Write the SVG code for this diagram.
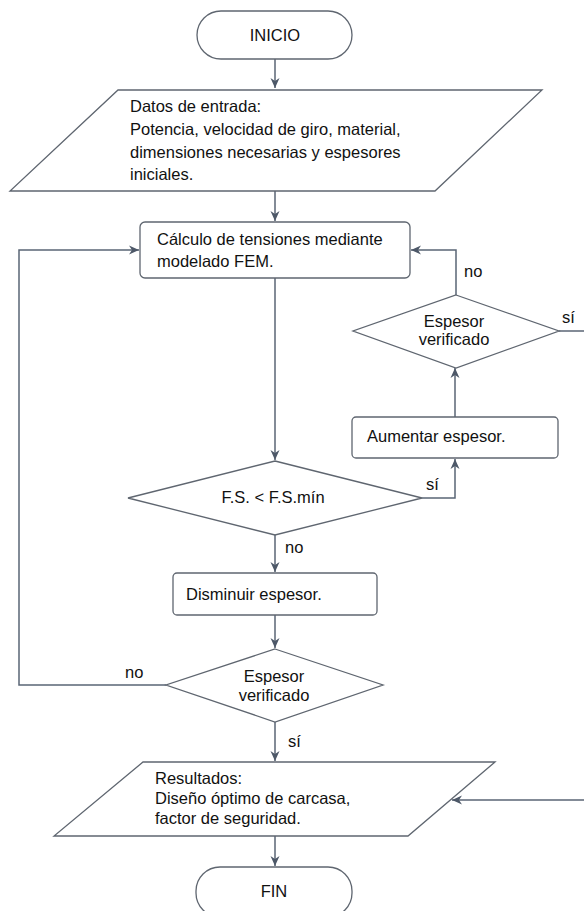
<svg xmlns="http://www.w3.org/2000/svg" width="584" height="911" viewBox="0 0 584 911">
<defs>
<style>
.shape{fill:#ffffff;stroke:#5f6670;stroke-width:1.3}
.line{fill:none;stroke:#5a6575;stroke-width:1.5}
.t{font-family:"Liberation Sans",Arial,sans-serif;font-size:16.5px;fill:#111111}
.c{text-anchor:middle}
</style>
<marker id="arr" markerWidth="12" markerHeight="10" refX="10" refY="5" orient="auto" markerUnits="userSpaceOnUse">
<path d="M0,0.5 L10,5 L0,9.5 L3,5 Z" fill="#4d5868"/>
</marker>
</defs>
<rect width="584" height="911" fill="#ffffff"/>
<g id="connectors">
<path class="line" d="M275,59 L275,88" marker-end="url(#arr)"/>
<path class="line" d="M275,191 L275,221" marker-end="url(#arr)"/>
<path class="line" d="M275,278 L275,460" marker-end="url(#arr)"/>
<path class="line" d="M422,498 L455,498 L455,459" marker-end="url(#arr)"/>
<path class="line" d="M455,417 L455,368" marker-end="url(#arr)"/>
<path class="line" d="M456,295 L456,250 L411,250" marker-end="url(#arr)"/>
<path class="line" d="M559,331 L586,331"/>
<path class="line" d="M275,535 L275,572" marker-end="url(#arr)"/>
<path class="line" d="M275,615 L275,648" marker-end="url(#arr)"/>
<path class="line" d="M166,685 L19,685 L19,250 L139,250" marker-end="url(#arr)"/>
<path class="line" d="M275,722 L275,761" marker-end="url(#arr)"/>
<path class="line" d="M586,800 L452,800" marker-end="url(#arr)"/>
<path class="line" d="M275,836 L275,866" marker-end="url(#arr)"/>
<text class="t" x="464" y="277">no</text>
<text class="t" x="562" y="323">sí</text>
<text class="t" x="426" y="490">sí</text>
<text class="t" x="285" y="553">no</text>
<text class="t" x="125" y="678">no</text>
<text class="t" x="288" y="747">sí</text>
</g>
<g id="inicio">
<rect class="shape" x="197" y="11" width="155" height="48" rx="24"/>
<text class="t c" x="275" y="41">INICIO</text>
</g>
<g id="datos">
<polygon class="shape" points="118,90 542,90 435,191 10,191"/>
<text class="t" x="130" y="112">Datos de entrada:</text>
<text class="t" x="130" y="135">Potencia, velocidad de giro, material,</text>
<text class="t" x="130" y="158">dimensiones necesarias y espesores</text>
<text class="t" x="130" y="180">iniciales.</text>
</g>
<g id="calculo">
<rect class="shape" x="140" y="222" width="270" height="56" rx="5"/>
<text class="t" x="157" y="245">Cálculo de tensiones mediante</text>
<text class="t" x="157" y="267">modelado FEM.</text>
</g>
<g id="verif1">
<polygon class="shape" points="456,295 559,331 456,368 353,331"/>
<text class="t c" x="454" y="327">Espesor</text>
<text class="t c" x="454" y="345">verificado</text>
</g>
<g id="aumentar">
<rect class="shape" x="352" y="417" width="206" height="41" rx="4"/>
<text class="t" x="367" y="442">Aumentar espesor.</text>
</g>
<g id="fs">
<polygon class="shape" points="275,461 422,498 275,535 128,498"/>
<text class="t c" x="273" y="503">F.S. &lt; F.S.mín</text>
</g>
<g id="disminuir">
<rect class="shape" x="173" y="573" width="204" height="42" rx="4"/>
<text class="t" x="186" y="600">Disminuir espesor.</text>
</g>
<g id="verif2">
<polygon class="shape" points="275,649 383,685 275,722 166,685"/>
<text class="t c" x="274" y="682">Espesor</text>
<text class="t c" x="274" y="701">verificado</text>
</g>
<g id="resultados">
<polygon class="shape" points="143,762 495,762 408,836 54,836"/>
<text class="t" x="155" y="784">Resultados:</text>
<text class="t" x="155" y="804">Diseño óptimo de carcasa,</text>
<text class="t" x="155" y="824">factor de seguridad.</text>
</g>
<g id="fin">
<rect class="shape" x="196" y="867" width="156" height="50" rx="24"/>
<text class="t c" x="274" y="897">FIN</text>
</g>
</svg>
